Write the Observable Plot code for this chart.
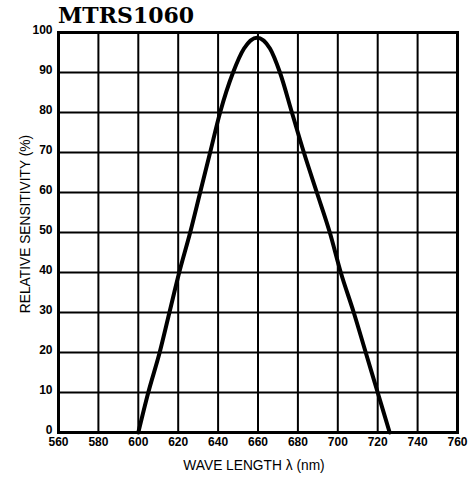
<!DOCTYPE html>
<html><head><meta charset="utf-8">
<script src="https://cdn.jsdelivr.net/npm/d3@7"></script>
<script src="https://cdn.jsdelivr.net/npm/@observablehq/plot@0.6"></script>
<style>
body{margin:0;background:#fff}
#wrap{position:relative;width:472px;height:478px}
#title{position:absolute;left:58px;top:4px;font:bold 22px/22px "DejaVu Serif",serif;color:#000;white-space:nowrap}
.lab{position:absolute;font:13.75px/1 "Liberation Sans",Arial,sans-serif;color:#000;white-space:nowrap;transform:translate(-50%,-50%)}
#ylab{transform:translate(-50%,-50%) rotate(-90deg)}
</style></head>
<body>
<div id="wrap"><div id="title">MTRS1060</div>
<div class="lab" id="xlab" style="left:254px;top:466px">WAVE LENGTH λ (nm)</div>
<div class="lab" id="ylab" style="left:26px;top:224px">RELATIVE SENSITIVITY (%)</div>
</div>
<script>
const xTicks = [560, 580, 600, 620, 640, 660, 680, 700, 720, 740, 760];
const yTicks = [0, 10, 20, 30, 40, 50, 60, 70, 80, 90, 100];
const wavelength = [600, 605, 610.7, 615.6, 620.5, 626, 631, 636, 641, 647.5, 653, 659.5, 666, 671, 677, 683, 689.5, 696, 701.5, 708, 714, 720, 726];
const sensitivity = [0, 10, 20, 30, 40, 50, 60, 70, 80, 90, 96, 98.7, 96, 90, 80, 70, 60, 50, 40, 30, 20, 10, 0];
const data = wavelength.map((w, i) => ({w, s: sensitivity[i]}));

const chart = Plot.plot({
  width: 472, height: 478,
  marginTop: 32, marginBottom: 46, marginLeft: 58, marginRight: 15,
  style: {fontFamily: "'Liberation Sans', Arial, sans-serif", fontSize: "12px", background: "white", color: "black"},
  x: {domain: [560, 760]},
  y: {domain: [0, 100]},
  marks: [
    Plot.gridX(xTicks, {stroke: "black", strokeOpacity: 1, strokeWidth: 2}),
    Plot.gridY(yTicks, {stroke: "black", strokeOpacity: 1, strokeWidth: 2}),
    Plot.frame({stroke: "black", strokeWidth: 3}),
    Plot.line(data, {x: "w", y: "s", curve: "monotone-x", stroke: "black", strokeWidth: 4}),
    Plot.axisX(xTicks, {tickSize: 0, tickPadding: 5, fontWeight: "bold", tickFormat: d => String(d), label: null}),
    Plot.axisY(yTicks, {tickSize: 0, tickPadding: 6, dy: -2, fontWeight: "bold", label: null})
  ]
});
document.getElementById("wrap").prepend(chart);
</script>
</body></html>
